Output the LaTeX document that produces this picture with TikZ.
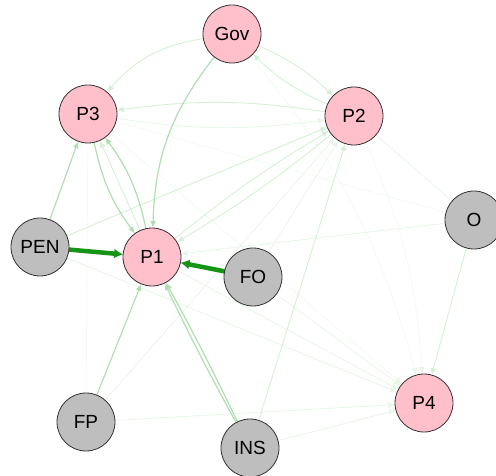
\documentclass[tikz,border=0pt]{standalone}
\usepackage{fontspec}
\setmainfont{Liberation Sans}
\usetikzlibrary{arrows.meta,backgrounds}

\definecolor{pinkfill}{RGB}{255,192,203}
\definecolor{greyfill}{RGB}{190,190,190}
\definecolor{tiestrong}{RGB}{22,148,22}
\definecolor{tiemid}{RGB}{176,222,176}
\definecolor{tielight}{RGB}{214,239,214}
\definecolor{tiefaint}{RGB}{232,246,232}

\begin{document}
\begin{tikzpicture}[x=1pt,y=-1pt, >={Latex[length=7pt,width=6pt]},
  actor/.style={circle,draw=black!80,line width=0.8pt,minimum size=58pt,
    inner sep=0pt,outer sep=0pt,font=\fontsize{19}{22}\selectfont},
  pnode/.style={actor,fill=pinkfill},
  gnode/.style={actor,fill=greyfill},
  strong/.style={->,draw=tiestrong,line width=4.5pt,>={Latex[length=9pt,width=10pt]}},
  mid/.style={->,draw=tiemid,line width=1.2pt},
  light/.style={->,draw=tielight,line width=0.9pt},
  faint/.style={->,draw=tiefaint,line width=0.8pt}]
\useasboundingbox (0,0) rectangle (496,476);
% actors
\node[pnode] (Gov) at (232,34) {Gov};
\node[pnode] (P3) at (88,114) {P3};
\node[pnode] (P2) at (354,116) {P2};
\node[gnode] (O) at (474,220) {O};
\node[gnode] (PEN) at (40,247) {PEN};
\node[pnode] (P1) at (152,257) {P1};
\node[gnode] (FO) at (253,277) {FO};
\node[pnode] (P4) at (424,403) {P4};
\node[gnode] (FP) at (86,422) {FP};
\node[gnode] (INS) at (250,448) {INS};
\begin{scope}[on background layer]
% weak ties first
\draw[faint] (P1) -- (P4); \draw[faint] (PEN) -- (P4);
\draw[faint] (FO) -- (P4); \draw[faint] (FP) -- (P4);
\draw[faint] (INS) -- (P4); \draw[faint,densely dotted] (P3) -- (P4);
\draw[faint,densely dotted] (P2) to[bend left=10] (P4);
\draw[faint,densely dotted] (Gov) to[bend left=12] (P4);
\draw[faint,densely dotted,-] (P3) -- (FP);
\draw[faint,densely dotted,-] (P3) -- (O);
\draw[faint,-] (P2) -- (O);
\draw[faint] (O) -- (P1);
\draw[light] (O) -- (P4);
% ties around P2
\draw[light] (Gov) to[bend left=10] (P2);
\draw[light] (P2) to[bend left=10] (Gov);
\draw[light] (P2) to[bend right=8] (P3);
\draw[faint] (P3) to[bend right=8] (P2);
\draw[light] (P1) to[bend left=4] (P2);
\draw[light] (P2) to[bend left=4] (P1);
\draw[light] (PEN) -- (P2);
\draw[faint] (FP) -- (P2);
\draw[faint] (FO) -- (P2);
\draw[light] (INS) -- (P2);
\draw[light] (Gov) to[bend right=20] (P3);
% ties into P1 and P3
\draw[mid] (Gov) to[bend right=18] (P1);
\draw[mid] (P3) to[bend right=12] (P1);
\draw[mid] (P1) to[bend right=12] (P3);
\draw[light] (P1) -- (P3);
\draw[mid] (PEN) -- (P3);
\draw[mid] (FP) -- (P1);
\draw[mid] (INS) to[bend left=1.5] (P1);
\draw[mid] (INS) to[bend right=1.5] (P1);
\draw[strong] (PEN) -- (P1);
\draw[strong] (FO) -- (P1);
\end{scope}
\end{tikzpicture}
\end{document}
